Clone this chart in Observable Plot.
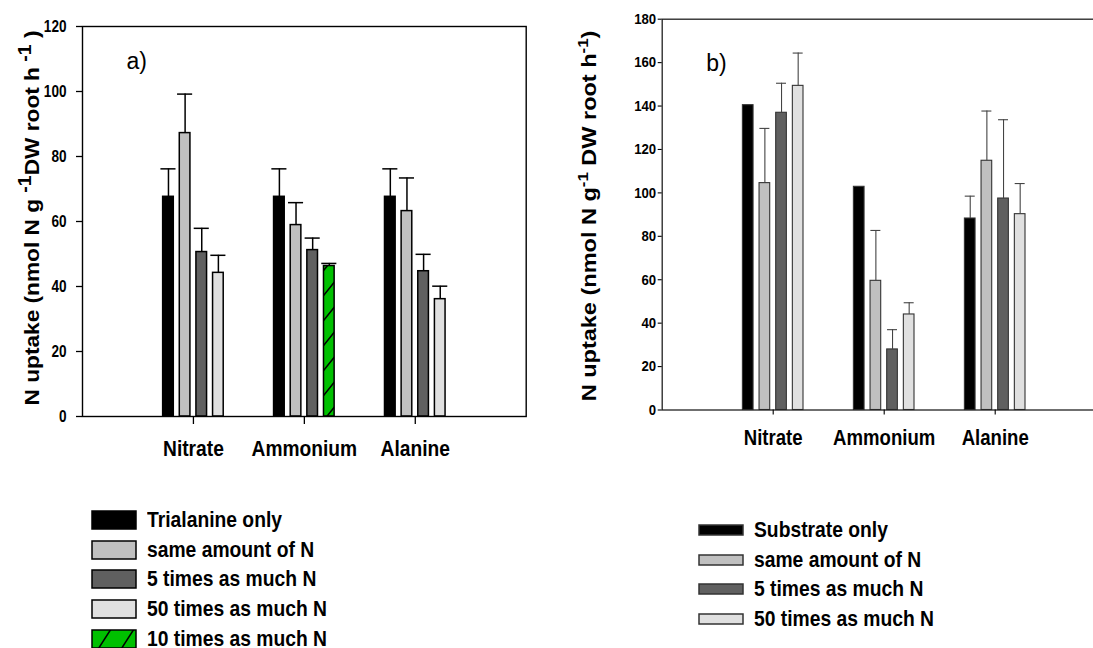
<!DOCTYPE html>
<html>
<head>
<meta charset="utf-8">
<script src="https://cdn.jsdelivr.net/npm/d3@7"></script>
<script src="https://cdn.jsdelivr.net/npm/@observablehq/plot@0.6"></script>
<style>
  html, body { margin: 0; padding: 0; background: #fff; }
  body { width: 1093px; height: 648px; overflow: hidden; position: relative;
         font-family: "Liberation Sans", Arial, sans-serif; color: #000; }
  #pa { position: absolute; left: 0; top: 0; width: 540px; }
  #pb { position: absolute; left: 540px; top: 0; width: 570px; }
  #pa svg, #pb svg { max-width: none !important; }
  .legend { position: absolute; }
  .legend .row { display: flex; align-items: center; height: 29.7px; }
  .legend .row span { display: inline-block; font-weight: bold; font-size: 19.3px;
                      transform: scaleY(1.15); white-space: nowrap; }
  #la { left: 91px; top: 505px; }
  #lb { left: 698px; top: 515px; }
</style>
</head>
<body>
<div id="pa"></div>
<div id="pb"></div>
<div id="la" class="legend"></div>
<div id="lb" class="legend"></div>
<script>
// ---------- data ----------
const categories = ["Nitrate", "Ammonium", "Alanine"];

// panel a) (means and standard errors per category)
const seriesA = ["Trialanine only", "same amount of N", "5 times as much N", "50 times as much N", "10 times as much N"];
const meanA_only = [67.6, 67.6, 67.6];
const seA_only   = [8.6, 8.6, 8.6];
const meanA_same = [87.2, 58.9, 63.2];
const seA_same   = [12.0, 6.9, 10.2];
const meanA_5x   = [50.6, 51.2, 44.7];
const seA_5x     = [7.3, 3.7, 5.2];
const meanA_50x  = [44.2, null, 36.1];
const seA_50x    = [5.4, null, 4.0];
const meanA_10x  = [null, 46.3, null];
const seA_10x    = [null, 0.8, null];
const yTicksA = [0, 20, 40, 60, 80, 100, 120];

// panel b)
const seriesB = ["Substrate only", "same amount of N", "5 times as much N", "50 times as much N"];
const meanB_only = [140.4, 102.8, 88.2];
const seB_only   = [null, null, 10.3];
const meanB_same = [104.5, 59.5, 114.8];
const seB_same   = [25.2, 23.2, 22.9];
const meanB_5x   = [136.9, 27.9, 97.4];
const seB_5x     = [13.6, 9.1, 36.3];
const meanB_50x  = [149.3, 44.0, 90.2];
const seB_50x    = [15.1, 5.4, 14.1];
const yTicksB = [0, 20, 40, 60, 80, 100, 120, 140, 160, 180];

// ---------- styles ----------
const FILLS_A = ["#000000", "#c0c0c0", "#606060", "#e0e0e0", "url(#hatchA)"];
const FILLS_B = ["#000000", "#c0c0c0", "#606060", "#e0e0e0"];
const SLOTS_A = [0, 1, 2, 3, 3];
const SLOTS_B = [0, 1, 2, 3];
const STEP = 0.15, HALF = 0.048;
const STRETCH = 1.15;
const SVG_STYLE = "font-family: 'Liberation Sans', Arial, sans-serif; font-weight: bold; color: #000; background: transparent; overflow: visible; max-width: none;";

function buildRows(names, means, ses, slots, fills) {
  const out = [];
  names.forEach((s, si) => categories.forEach((c, ci) => {
    const m = means[si][ci];
    if (m == null) return;
    const center = ci + 1 + (slots[si] - 1.5) * STEP;
    out.push({category: c, series: s, mean: m, se: ses[si][ci] || 0,
              center, fill: fills[si]});
  }));
  return out;
}

const rowsA = buildRows(seriesA,
  [meanA_only, meanA_same, meanA_5x, meanA_50x, meanA_10x],
  [seA_only, seA_same, seA_5x, seA_50x, seA_10x], SLOTS_A, FILLS_A);
const rowsB = buildRows(seriesB,
  [meanB_only, meanB_same, meanB_5x, meanB_50x],
  [seB_only, seB_same, seB_5x, seB_50x], SLOTS_B, FILLS_B);

function stretchTicks(svg) {
  d3.select(svg).selectAll("g[aria-label$='tick label'] text").each(function () {
    const t = this.getAttribute("transform") || "";
    this.setAttribute("transform", t + ` scale(1,${STRETCH})`);
  });
}

function yLabel(svg, x, y, size, supSize, supDy, parts, stretch) {
  const t = d3.select(svg).append("text")
    .attr("transform", `translate(${x},${y}) rotate(-90) scale(${stretch},1)`)
    .attr("text-anchor", "middle")
    .attr("font-weight", "bold")
    .attr("font-size", size)
    .attr("fill", "#000");
  let pending = 0;
  parts.forEach(([txt, sup]) => {
    const dy = (sup ? -supDy : 0) + pending;
    t.append("tspan")
      .attr("font-size", sup ? supSize : size)
      .attr("dy", dy)
      .text(txt);
    pending = sup ? supDy : 0;
  });
}

// ---------- panel a ----------
const plotA = Plot.plot({
  width: 540, height: 470,
  marginLeft: 82, marginRight: 14.3, marginTop: 26, marginBottom: 54,
  style: SVG_STYLE,
  x: {domain: [0, 4]},
  y: {domain: [0, 120]},
  color: {type: "identity"},
  marks: [
    Plot.rect(rowsA, {x1: d => d.center - HALF, x2: d => d.center + HALF,
      y1: d => 0, y2: "mean", fill: "fill", stroke: "#000", strokeWidth: 1.5}),
    Plot.ruleX(rowsA.filter(d => d.se > 0), {x: "center", y1: "mean", y2: d => d.mean + d.se,
      stroke: "#000", strokeWidth: 1.5}),
    Plot.ruleY(rowsA.filter(d => d.se > 0), {y: d => d.mean + d.se,
      x1: d => d.center - 0.068, x2: d => d.center + 0.068, stroke: "#000", strokeWidth: 1.5}),
    Plot.frame({stroke: "#000", strokeWidth: 1.4}),
    Plot.axisY(yTicksA, {tickSize: 6, tickPadding: 10, fontSize: 13.6, fontWeight: "bold",
      label: null, strokeWidth: 1.3}),
    Plot.axisX([1, 2, 3], {tickFormat: i => categories[i - 1], tickSize: 8, tickPadding: 16,
      fontSize: 19.2, fontWeight: "bold", label: null, strokeWidth: 1.3}),
    Plot.text(["a)"], {frameAnchor: "top-left", dx: 44, dy: 35, lineAnchor: "middle",
      fontSize: 23, fontWeight: "normal", fill: "#000"})
  ]
});
d3.select(plotA).insert("defs", ":first-child").html(
  `<pattern id="hatchA" patternUnits="userSpaceOnUse" width="20" height="25">
     <rect width="20" height="25" fill="#00c000"/>
     <path d="M0,25 L20,0 M-4,5 L4,-5 M16,30 L24,20" stroke="#000" stroke-width="1.5"/>
   </pattern>`);
stretchTicks(plotA);
yLabel(plotA, 38.5, 218, 21, 18, 8,
  [["N uptake (nmol N g ", false], ["-1", true], ["DW root h", false], [" -1", true], [" )", false]], 1.08);
document.getElementById("pa").appendChild(plotA);

// ---------- panel b ----------
const plotB = Plot.plot({
  width: 570, height: 460,
  marginLeft: 121.7, marginRight: 4.3, marginTop: 18.7, marginBottom: 50.5,
  style: SVG_STYLE,
  x: {domain: [0, 4]},
  y: {domain: [0, 180]},
  color: {type: "identity"},
  marks: [
    Plot.rect(rowsB, {x1: d => d.center - HALF, x2: d => d.center + HALF,
      y1: d => 0, y2: "mean", fill: "fill", stroke: "#333", strokeWidth: 1.1}),
    Plot.ruleX(rowsB.filter(d => d.se > 0), {x: "center", y1: "mean", y2: d => d.mean + d.se,
      stroke: "#444", strokeWidth: 1.1}),
    Plot.ruleY(rowsB.filter(d => d.se > 0), {y: d => d.mean + d.se,
      x1: d => d.center - 0.045, x2: d => d.center + 0.045, stroke: "#444", strokeWidth: 1.1}),
    Plot.frame({stroke: "#222", strokeWidth: 1.3}),
    Plot.axisY(yTicksB, {tickSize: 4, tickPadding: 2, fontSize: 13.2, fontWeight: "bold",
      label: null, strokeWidth: 1.1}),
    Plot.axisX([1, 2, 3], {tickFormat: i => categories[i - 1], tickSize: 5, tickPadding: 15,
      fontSize: 18.6, fontWeight: "bold", label: null, strokeWidth: 1.1}),
    Plot.text(["b)"], {frameAnchor: "top-left", dx: 44, dy: 44, lineAnchor: "middle",
      fontSize: 23, fontWeight: "normal", fill: "#000"})
  ]
});
stretchTicks(plotB);
yLabel(plotB, 56, 216, 21, 15, 8,
  [["N uptake (nmol N g", false], ["-1", true], [" DW root h", false], ["-1", true], [")", false]], 1.12);
document.getElementById("pb").appendChild(plotB);

// ---------- legends ----------
function legend(id, names, fills, w, h, stroke, withPattern) {
  const root = d3.select(id);
  names.forEach((name, i) => {
    const row = root.append("div").attr("class", "row");
    const s = row.append("svg").attr("width", w + 2).attr("height", h + 2)
      .style("margin-right", "10px").style("flex", "none");
    if (withPattern && fills[i].startsWith("url")) {
      s.append("defs").html(
        `<pattern id="hatchL" patternUnits="userSpaceOnUse" width="23" height="25" x="4">
           <rect width="23" height="25" fill="#00c000"/>
           <path d="M0,25 L16,0 M23,25 L39,0 M-23,25 L-7,0" stroke="#000" stroke-width="1.5"/>
         </pattern>`);
    }
    s.append("rect").attr("x", 1).attr("y", 1).attr("width", w).attr("height", h)
      .attr("fill", fills[i].startsWith("url") ? "url(#hatchL)" : fills[i])
      .attr("stroke", stroke).attr("stroke-width", 1.5);
    row.append("span").text(name);
  });
}
legend("#la", seriesA, FILLS_A, 44, 18, "#000", true);
legend("#lb", seriesB, FILLS_B, 44, 10, "#333", false);
</script>
</body>
</html>
